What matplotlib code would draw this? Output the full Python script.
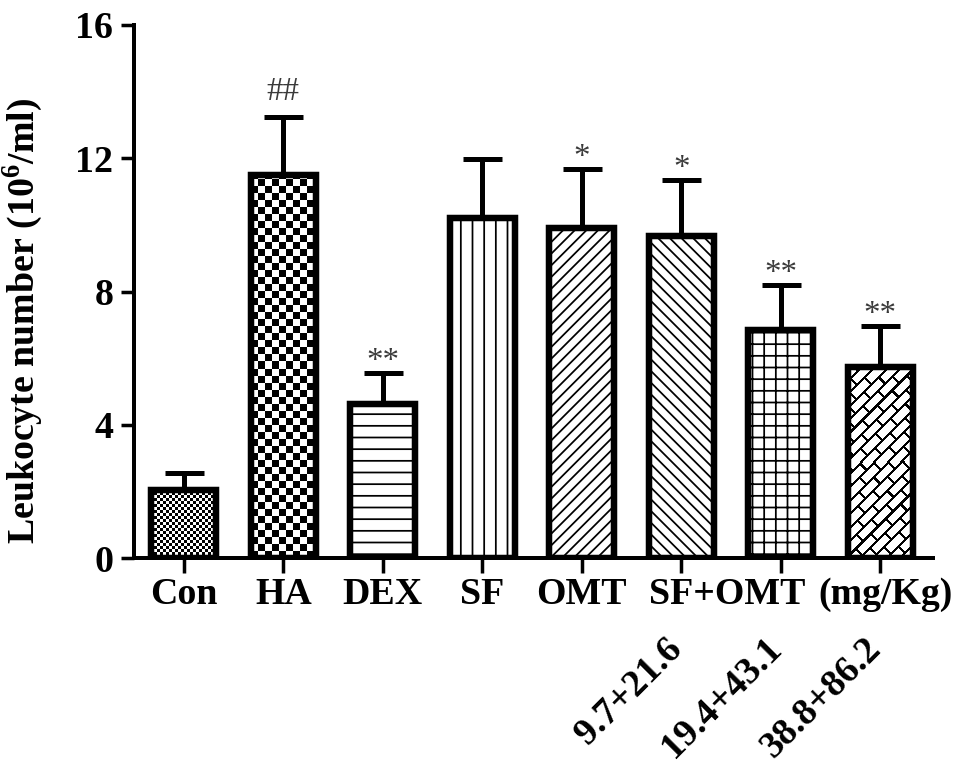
import matplotlib
matplotlib.use("Agg")
import matplotlib.pyplot as plt
import numpy as np

# data
labels = ['Con', 'HA', 'DEX', 'SF', 'OMT', '', '', '']
doses = ['', '', '', '', '', '9.7+21.6', '19.4+43.1', '38.8+86.2']
means = [2.04, 11.5, 4.62, 10.2, 9.9, 9.67, 6.85, 5.74]
sems = [0.51, 1.73, 0.93, 1.77, 1.78, 1.68, 1.35, 1.23]
marks = ['', '##', '**', '', '*', '*', '**', '**']
combo_label = 'SF+OMT'
unit_label = '(mg/Kg)'
yticks = [0, 4, 8, 12, 16]

# fill style of each bar
fills = ['fine', 'checker', '--', '||', '////', '\\\\\\\\', '++', 'brick']

DPI = 140
PT = 72 / DPI  # pixels -> points

plt.rcParams['font.family'] = ['Liberation Serif', 'DejaVu Serif']
plt.rcParams['font.weight'] = 'bold'
plt.rcParams['mathtext.fontset'] = 'custom'
plt.rcParams['mathtext.rm'] = 'Liberation Serif:bold'
plt.rcParams['mathtext.bf'] = 'Liberation Serif:bold'
plt.rcParams['hatch.linewidth'] = 0.9

fig = plt.figure(figsize=(969 / DPI, 778 / DPI), dpi=DPI)
ax = fig.add_axes([134 / 969, 1 - 558 / 778, 799 / 969, 533 / 778])
ax.set_xlim(-0.5, 7.53)
ax.set_ylim(0, 16)

x = np.arange(len(means))
width = 0.65
lw_edge = 6.5 * PT

base = ax.bar(x, means, width, color='white', edgecolor='none', zorder=2)

# raster fills (checkerboards and bricks) clipped to the bars
px_x = ax.transData.transform((1, 0))[0] - ax.transData.transform((0, 0))[0]
px_y = ax.transData.transform((0, 1))[1] - ax.transData.transform((0, 0))[1]


def raster(kind, w, h):
    yy, xx = np.mgrid[0:h, 0:w]
    if kind == 'fine':
        return ((xx // 3 + yy // 3) % 2 == 0).astype(float)
    if kind == 'checker':
        return ((xx // 7 + yy // 7) % 2 == 0).astype(float)
    # bricks running along '/'
    u = (xx + yy) / np.sqrt(2)
    v = (yy - xx) / np.sqrt(2)
    P, L, t = 9.5, 21.0, 2.2
    row = np.floor(v / P)
    a = (v % P) < t
    b = ((u + (row % 2) * L / 2) % L) < t
    return (a | b).astype(float)


for i, (patch, kind) in enumerate(zip(base.patches, fills)):
    if kind in ('fine', 'checker', 'brick'):
        w = int(round(width * px_x))
        h = int(round(means[i] * px_y))
        img = raster(kind, w, h)
        im = ax.imshow(img, cmap='gray_r', vmin=0, vmax=1, origin='lower',
                       extent=(x[i] - width / 2, x[i] + width / 2, 0, means[i]),
                       aspect='auto', interpolation='nearest', zorder=2.5)
        im.set_clip_path(patch)

for i, kind in enumerate(fills):
    hatch = None if kind in ('fine', 'checker', 'brick') else kind
    ax.bar(x[i], means[i], width, fill=False, edgecolor='black',
           linewidth=lw_edge, hatch=hatch, joinstyle='miter', zorder=3)

ax.errorbar(x, means, yerr=[np.zeros(len(sems)), sems], fmt='none',
            ecolor='black', elinewidth=5 * PT, capsize=19.5 * PT,
            capthick=5 * PT, zorder=4)

ax.set_xlim(-0.5, 7.53)
ax.set_ylim(0, 16)

# significance marks
for i, m in enumerate(marks):
    if not m:
        continue
    off = 17 if m.startswith('#') else 3
    ax.annotate(m, xy=(x[i], means[i] + sems[i]), xytext=(0, off * PT),
                textcoords='offset points', ha='center', va='baseline',
                fontsize=17, fontweight='normal', color='#3a3a3a')

# axes styling
for s in ['top', 'right']:
    ax.spines[s].set_visible(False)
for s in ['left', 'bottom']:
    ax.spines[s].set_linewidth(4 * PT)
ax.tick_params(axis='y', length=13 * PT, width=3.5 * PT, pad=4,
               labelsize=19.5, direction='out')
ax.tick_params(axis='x', length=15 * PT, width=3.5 * PT, pad=2,
               labelsize=19.5, direction='out')
ax.set_yticks(yticks)
ax.set_xticks(x)
ax.set_xticklabels(labels, fontweight='bold')
for t in ax.get_yticklabels():
    t.set_fontweight('bold')

ax.set_ylabel(r'Leukocyte number (10$^{6}$/ml)', fontsize=19.5, fontweight='bold')
ax.yaxis.set_label_coords(-0.111, 0.445)

label_off = -(15 * PT + 2)
ax.annotate(combo_label, xy=(5.46, 0), xycoords=('data', 'axes fraction'),
            xytext=(0, label_off), textcoords='offset points',
            ha='center', va='top', fontsize=19.5, fontweight='bold')
ax.annotate(unit_label, xy=(7.05, 0), xycoords=('data', 'axes fraction'),
            xytext=(0, label_off), textcoords='offset points',
            ha='center', va='top', fontsize=19.5, fontweight='bold')

for i, d in enumerate(doses):
    if not d:
        continue
    ax.annotate(d, xy=(x[i], 0), xycoords=('data', 'axes fraction'),
                xytext=(-17 * PT, -73 * PT), textcoords='offset points',
                ha='right', va='top', rotation=45, rotation_mode='anchor',
                fontsize=19.5, fontweight='bold')

fig.savefig('out.png', dpi=DPI)
